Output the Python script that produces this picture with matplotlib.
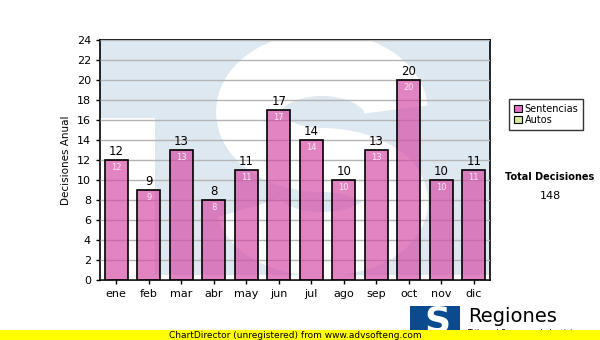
import numpy as np
import matplotlib
matplotlib.use("Agg")
import matplotlib.pyplot as plt
from matplotlib.patches import Rectangle, Patch, PathPatch
from matplotlib.path import Path

months = ["ene", "feb", "mar", "abr", "may", "jun", "jul", "ago", "sep", "oct", "nov", "dic"]
sentencias = [12, 9, 13, 8, 11, 17, 14, 10, 13, 20, 10, 11]
total = 148
yticks = list(range(0, 25, 2))

W, H = 600, 340
fig = plt.figure(figsize=(6, 3.4), dpi=100)
fig.patch.set_facecolor("white")


def px(x0, y0, x1, y1):
    # pixel box -> figure fraction [left, bottom, width, height]
    return [x0 / W, 1 - y1 / H, (x1 - x0) / W, (y1 - y0) / H]


ax = fig.add_axes(px(100, 40, 490, 280))
ax.set_facecolor("#dee8f1")


# watermark: white areas over the light blue plot background
def fx(p):
    return (p - 100) / 390


def fy(p):
    return (280 - p) / 240


ax.add_patch(Rectangle((0, 0), fx(155), fy(118), transform=ax.transAxes,
                       facecolor="white", edgecolor="none", zorder=0))
ax.add_patch(Rectangle((0, 0), 1, fy(275), transform=ax.transAxes,
                       facecolor="white", edgecolor="none", zorder=0))
t1 = np.radians(np.linspace(3, 270, 80))
t2 = np.radians(np.linspace(90, -172, 80))
sx = np.concatenate([322 + 74 * np.cos(t1), 322 + 74 * np.cos(t2)])
sy = np.concatenate([112 - 48 * np.sin(t1), 202 - 42 * np.sin(t2)])
s_path = Path(np.column_stack([fx(sx), fy(sy)]))
ax.add_patch(PathPatch(s_path, transform=ax.transAxes, facecolor="none",
                       edgecolor="white", lw=46, capstyle="butt",
                       joinstyle="round", zorder=0))

x = np.arange(len(months))
ax.bar(x, sentencias, width=0.7, color="#d54aa6", alpha=0.68,
       edgecolor="none", zorder=3)
ax.bar(x, sentencias, width=0.7, color="none", edgecolor="black", lw=1.2, zorder=4)

for xi, v in zip(x, sentencias):
    ax.text(xi, v + 0.15, str(v), ha="center", va="bottom", fontsize=8.5,
            color="black", zorder=5)
    ax.text(xi, v - 0.35, str(v), ha="center", va="top", fontsize=6,
            color="#fbe8f4", zorder=5)

ax.set_xlim(-0.5, len(months) - 0.5)
ax.set_ylim(0, 24)
ax.set_yticks(yticks)
ax.set_xticks(x)
ax.set_xticklabels(months)
ax.tick_params(axis="both", labelsize=8, length=3, width=1, direction="out")
ax.yaxis.grid(True, color="#b5b5b5", lw=1)
ax.set_axisbelow(False)
for gl in ax.get_ygridlines():
    gl.set_zorder(1)
for s in ax.spines.values():
    s.set_linewidth(1.2)
    s.set_color("black")
ax.set_ylabel("Decisiones Anual", fontsize=7.5, labelpad=4)

# legend
handles = [Patch(facecolor="#e070c4", edgecolor="black", lw=0.8, label="Sentencias"),
           Patch(facecolor="#d8eca0", edgecolor="black", lw=0.8, label="Autos")]
leg = fig.legend(handles=handles, loc="upper left",
                 bbox_to_anchor=(509 / W, 1 - 99 / H), fontsize=7,
                 frameon=True, fancybox=False, edgecolor="black",
                 handlelength=0.8, handleheight=0.8, handletextpad=0.3,
                 borderpad=0.5, labelspacing=0.1, borderaxespad=0)
leg.get_frame().set_linewidth(1)

fig.text(550 / W, 1 - 177 / H, "Total Decisiones", ha="center", va="center",
         fontsize=7, fontweight="bold")
fig.text(550 / W, 1 - 196 / H, str(total), ha="center", va="center", fontsize=8)

# logo at bottom right
fig.add_artist(Rectangle((410 / W, 1 - 340 / H), 50 / W, 34 / H,
                         transform=fig.transFigure, facecolor="#0b4a8e",
                         edgecolor="none"))
fig.text(437 / W, 1 - 322 / H, "S", ha="center", va="center", fontsize=26,
         fontweight="bold", color="white")
fig.text(468 / W, 1 - 316 / H, "Regiones", ha="left", va="center", fontsize=14)
fig.text(468 / W, 1 - 333 / H, "Tribunal Supremo de Justicia", ha="left",
         va="center", fontsize=5.5)

# ChartDirector band
fig.add_artist(Rectangle((0, 0), 1, 10 / H, transform=fig.transFigure,
                         facecolor="#ffff00", edgecolor="none", zorder=10))
fig.text(295 / W, 5 / H, "ChartDirector (unregistered) from www.advsofteng.com",
         ha="center", va="center", fontsize=6.5, zorder=11)

fig.savefig("out.png", dpi=100)
